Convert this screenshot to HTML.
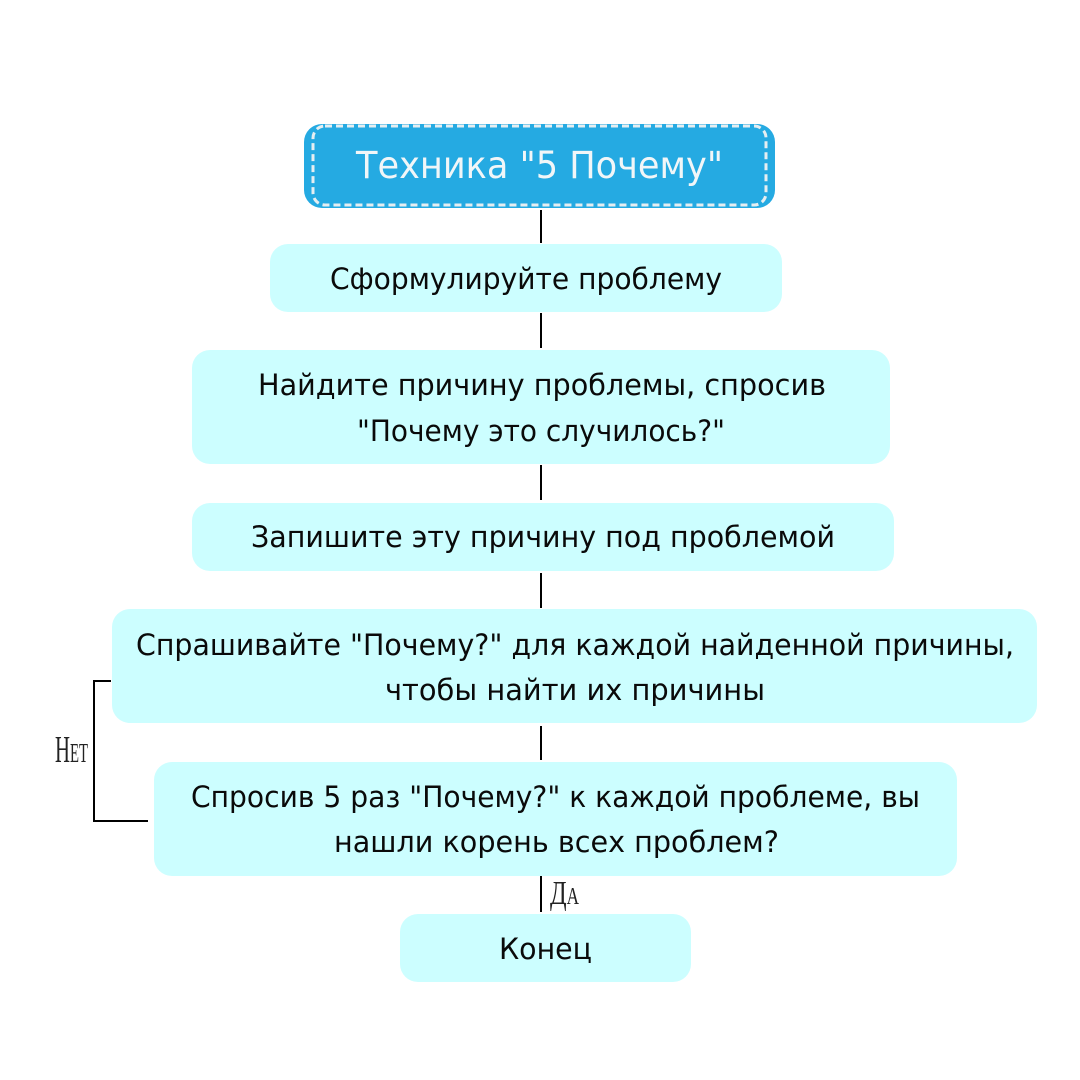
<!DOCTYPE html>
<html><head><meta charset="utf-8"><style>html,body{margin:0;padding:0;background:#fff}svg{display:block}
.t{font-family:"DejaVu Sans",sans-serif;font-size:29px;fill:#0a0a0a;text-anchor:start}
.l{font-family:"Liberation Serif",serif;fill:#222;font-variant:small-caps}
</style></head><body>
<svg width="1080" height="1080" viewBox="0 0 1080 1080" xmlns="http://www.w3.org/2000/svg">
<rect width="1080" height="1080" fill="#fff"/>
<g stroke="#000" stroke-width="2" fill="none">
<path d="M541 210V243M541 313V348M541 465V500M541 573V608M541 726V760M541 876V912"/>
<path d="M111 681H94V821H148"/>
</g>
<rect x="304" y="124" width="471" height="84" rx="18" fill="#25aae2"/>
<rect x="313" y="126" width="453" height="79" rx="12" fill="none" stroke="#e6eef1" stroke-width="3" stroke-dasharray="7 4"/>
<g fill="#ccfeff">
<rect x="270" y="244" width="512" height="68" rx="18"/>
<rect x="192" y="350" width="698" height="114" rx="18"/>
<rect x="192" y="503" width="702" height="68" rx="18"/>
<rect x="112" y="609" width="925" height="114" rx="18"/>
<rect x="154" y="762" width="803" height="114" rx="18"/>
<rect x="400" y="914" width="291" height="68" rx="18"/>
</g>
<text class="t" x="356" y="178" style="font-size:37px;fill:#f1f6f8" textLength="367" lengthAdjust="spacingAndGlyphs">Техника "5 Почему"</text>
<text class="t" x="330" y="289" textLength="392" lengthAdjust="spacingAndGlyphs">Сформулируйте проблему</text>
<text class="t" x="258" y="395" textLength="568" lengthAdjust="spacingAndGlyphs">Найдите причину проблемы, спросив</text>
<text class="t" x="357" y="441" textLength="368" lengthAdjust="spacingAndGlyphs">"Почему это случилось?"</text>
<text class="t" x="251" y="547" textLength="584" lengthAdjust="spacingAndGlyphs">Запишите эту причину под проблемой</text>
<text class="t" x="136" y="655" textLength="878" lengthAdjust="spacingAndGlyphs">Спрашивайте "Почему?" для каждой найденной причины,</text>
<text class="t" x="385" y="700" textLength="380" lengthAdjust="spacingAndGlyphs">чтобы найти их причины</text>
<text class="t" x="191" y="807" textLength="729" lengthAdjust="spacingAndGlyphs">Спросив 5 раз "Почему?" к каждой проблеме, вы</text>
<text class="t" x="334" y="852" textLength="445" lengthAdjust="spacingAndGlyphs">нашли корень всех проблем?</text>
<text class="t" x="499" y="959" textLength="93" lengthAdjust="spacingAndGlyphs">Конец</text>
<text class="l" x="55" y="762" style="font-size:38px" textLength="33" lengthAdjust="spacingAndGlyphs">Нет</text>
<text class="l" x="550" y="904" style="font-size:34px" textLength="29" lengthAdjust="spacingAndGlyphs">Да</text>
</svg>
</body></html>
